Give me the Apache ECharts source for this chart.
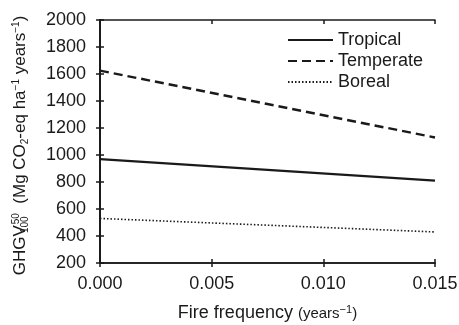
<!DOCTYPE html>
<html>
<head>
<meta charset="utf-8">
<script src="https://cdn.jsdelivr.net/npm/echarts@6/dist/echarts.min.js"></script>
<style>
  html, body {margin: 0; padding: 0; background: #fff;}
  #chart {width: 459px; height: 325px;}
</style>
</head>
<body>
<div id="chart"></div>
<script>
// fire frequency (years^-1) at the two ends of each line
const fireFreq = [0, 0.015];
const tropical = [970, 810];
const temperate = [1625, 1130];
const boreal = [530, 430];

const font = 'Liberation Sans';
const ink = '#1a1a1a';

const pairs = ys => fireFreq.map((x, i) => [x, ys[i]]);

const chart = echarts.init(document.getElementById('chart'));

const xBase = {
  type: 'value', min: 0, max: 0.015, interval: 0.005,
  axisLine: {lineStyle: {color: ink, width: 1.5}},
  axisTick: {length: 4, lineStyle: {color: ink, width: 1.5}},
  splitLine: {show: false},
  axisLabel: {show: false}
};
const yBase = {
  type: 'value', min: 200, max: 2000, interval: 200,
  axisLine: {lineStyle: {color: ink, width: 2}},
  axisTick: {length: 4, lineStyle: {color: ink, width: 1.5}},
  splitLine: {show: false},
  axisLabel: {show: false}
};

chart.setOption({
  animation: false,
  textStyle: {fontFamily: font, color: ink},
  grid: {left: 100, right: 24, top: 20, bottom: 62, outerBoundsMode: 'none'},
  legend: {
    orient: 'vertical',
    left: 282,
    top: 26,
    itemWidth: 45,
    itemHeight: 14,
    itemGap: 3,
    itemStyle: {opacity: 0},
    textStyle: {fontSize: 18, color: ink, fontFamily: font},
    data: ['Tropical', 'Temperate', 'Boreal']
  },
  xAxis: [
    {
      ...xBase,
      position: 'bottom',
      axisTick: {...xBase.axisTick, inside: false},
      axisLabel: {
        show: true, fontSize: 18, color: ink, margin: 12,
        formatter: v => v.toFixed(3)
      },
      name: '{a|Fire frequency }{b|(years}{sup|−1}{b|)}',
      nameLocation: 'middle',
      nameGap: 41,
      nameTextStyle: {
        rich: {
          a: {fontSize: 18, color: ink, fontFamily: font},
          b: {fontSize: 15, color: ink, fontFamily: font},
          sup: {fontSize: 11, color: ink, fontFamily: font, padding: [0, 0, 8, 0]}
        }
      }
    },
    {...xBase, position: 'bottom', axisTick: {...xBase.axisTick, inside: true}},
    {...xBase, position: 'top', axisTick: {...xBase.axisTick, inside: true}}
  ],
  yAxis: [
    {
      ...yBase,
      position: 'left',
      axisTick: {...yBase.axisTick, inside: false},
      axisLabel: {show: true, fontSize: 18, color: ink, margin: 14, formatter: v => String(v)},
      name: '{a|GHGV}{sub|100}{sup|50}{a|  (Mg CO}{sub2|2}{a|-eq ha}{sup|−1}{a| years}{sup|−1}{a|)}',
      nameLocation: 'middle',
      nameGap: 70,
      nameTextStyle: {
        padding: [0, 8, 0, 0],
        rich: {
          a: {fontSize: 17, color: ink, fontFamily: font},
          sub: {fontSize: 10, width: 1, color: ink, fontFamily: font, padding: [9, 0, 0, 0]},
          sub2: {fontSize: 10, color: ink, fontFamily: font, padding: [9, 0, 0, 0]},
          sup: {fontSize: 10, color: ink, fontFamily: font, padding: [0, 0, 9, 0]}
        }
      }
    },
    {...yBase, position: 'left', axisTick: {...yBase.axisTick, inside: true}},
    {...yBase, position: 'right', axisTick: {...yBase.axisTick, inside: true}}
  ],
  series: [
    {name: 'Tropical', data: pairs(tropical), lineStyle: {type: 'solid', width: 2.2}},
    {name: 'Temperate', data: pairs(temperate), lineStyle: {type: [9, 5], width: 2.5}},
    {name: 'Boreal', data: pairs(boreal), lineStyle: {type: [1.5, 2], width: 1.6}}
  ].map(s => ({
    ...s,
    type: 'line',
    symbol: 'none',
    color: ink,
    lineStyle: {...s.lineStyle, color: ink}
  }))
});
</script>
</body>
</html>
